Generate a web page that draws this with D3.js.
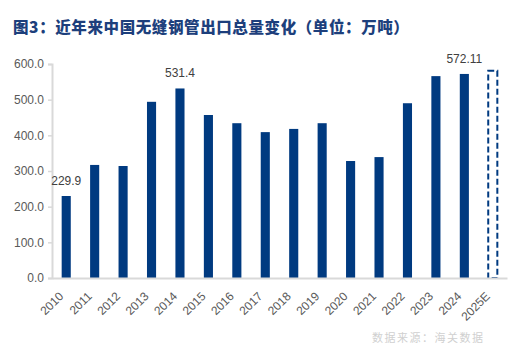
<!DOCTYPE html>
<html><head><meta charset="utf-8">
<script src="https://cdn.jsdelivr.net/npm/d3@7/dist/d3.min.js"></script>
<style>body{margin:0;background:#fff}svg{display:block}</style>
</head><body>
<svg id="c" width="521" height="350"></svg>
<script>
const categories = ["2010","2011","2012","2013","2014","2015","2016","2017","2018","2019","2020","2021","2022","2023","2024","2025E"];
const values = [229.9,317,314,494,531.4,457,434,409,418,434,328,339,490,566,572.11,581];
const estimated = [false,false,false,false,false,false,false,false,false,false,false,false,false,false,false,true];
const labelled = {"2010":"229.9","2014":"531.4","2024":"572.11"};
const yTicks = [0,100,200,300,400,500,600];

const svg = d3.select("#c");
const m = {l:52, r:507, t:64, b:278};
const x = d3.scaleBand().domain(categories).range([m.l, m.r]).paddingInner(0.68).paddingOuter(0.34);
const y = d3.scaleLinear().domain([0,600]).range([m.b, m.t]);
const blue = "#003a80";

svg.append("text").attr("x",13).attr("y",33)
  .attr("font-family","'Noto Sans CJK SC'").attr("font-weight","900").attr("font-size",15.5)
  .attr("fill","#1d3f7c").attr("letter-spacing",0.6)
  .text("图3：近年来中国无缝钢管出口总量变化（单位：万吨）");

// y axis
const ya = svg.append("g").attr("transform",`translate(${m.l},0)`)
  .call(d3.axisLeft(y).tickValues(yTicks).tickFormat(d3.format(".1f")).tickSize(4).tickPadding(4));
ya.select(".domain").attr("stroke","#d9d9d9").attr("stroke-width",2);
ya.selectAll(".tick line").attr("stroke","#d9d9d9").attr("stroke-width",1.5);
ya.selectAll(".tick text").attr("font-family","'Liberation Sans', Arial").attr("font-size",12).attr("fill","#595959");

// bars
svg.append("g").selectAll("rect").data(categories.filter((c,i)=>!estimated[i])).join("rect")
  .attr("x",d=>x(d)).attr("width",x.bandwidth())
  .attr("y",d=>y(values[categories.indexOf(d)]))
  .attr("height",d=>m.b - y(values[categories.indexOf(d)]))
  .attr("fill",blue);

svg.append("g").selectAll("rect").data(categories.filter((c,i)=>estimated[i])).join("rect")
  .attr("x",d=>x(d)).attr("width",x.bandwidth())
  .attr("y",d=>y(values[categories.indexOf(d)]))
  .attr("height",d=>m.b - y(values[categories.indexOf(d)]))
  .attr("fill","none").attr("stroke",blue).attr("stroke-width",2).attr("stroke-dasharray","6,3");

// x axis
const xa = svg.append("g").attr("transform",`translate(0,${m.b})`)
  .call(d3.axisBottom(x).tickSize(0).tickPadding(0));
xa.select(".domain").attr("stroke","#d9d9d9").attr("stroke-width",2);
xa.selectAll(".tick text").attr("font-family","'Liberation Sans', Arial").attr("font-size",12).attr("fill","#595959")
  .attr("text-anchor","end").attr("x",0).attr("y",0).attr("dy","0.35em")
  .attr("transform","translate(-5,16) rotate(-45)");

// data labels
svg.append("g").selectAll("text").data(Object.keys(labelled)).join("text")
  .attr("x",d=>x(d)+x.bandwidth()/2)
  .attr("y",d=>y(values[categories.indexOf(d)]) - 11)
  .attr("text-anchor","middle").attr("font-family","'Liberation Sans', Arial").attr("font-size",12).attr("fill","#404040")
  .text(d=>labelled[d]);

svg.append("text").attr("x",372).attr("y",342)
  .attr("font-family","'Noto Sans CJK SC'").attr("font-size",11).attr("fill","#d0d0d0").attr("letter-spacing",1.5)
  .text("数据来源：海关数据");
</script>
</body></html>
